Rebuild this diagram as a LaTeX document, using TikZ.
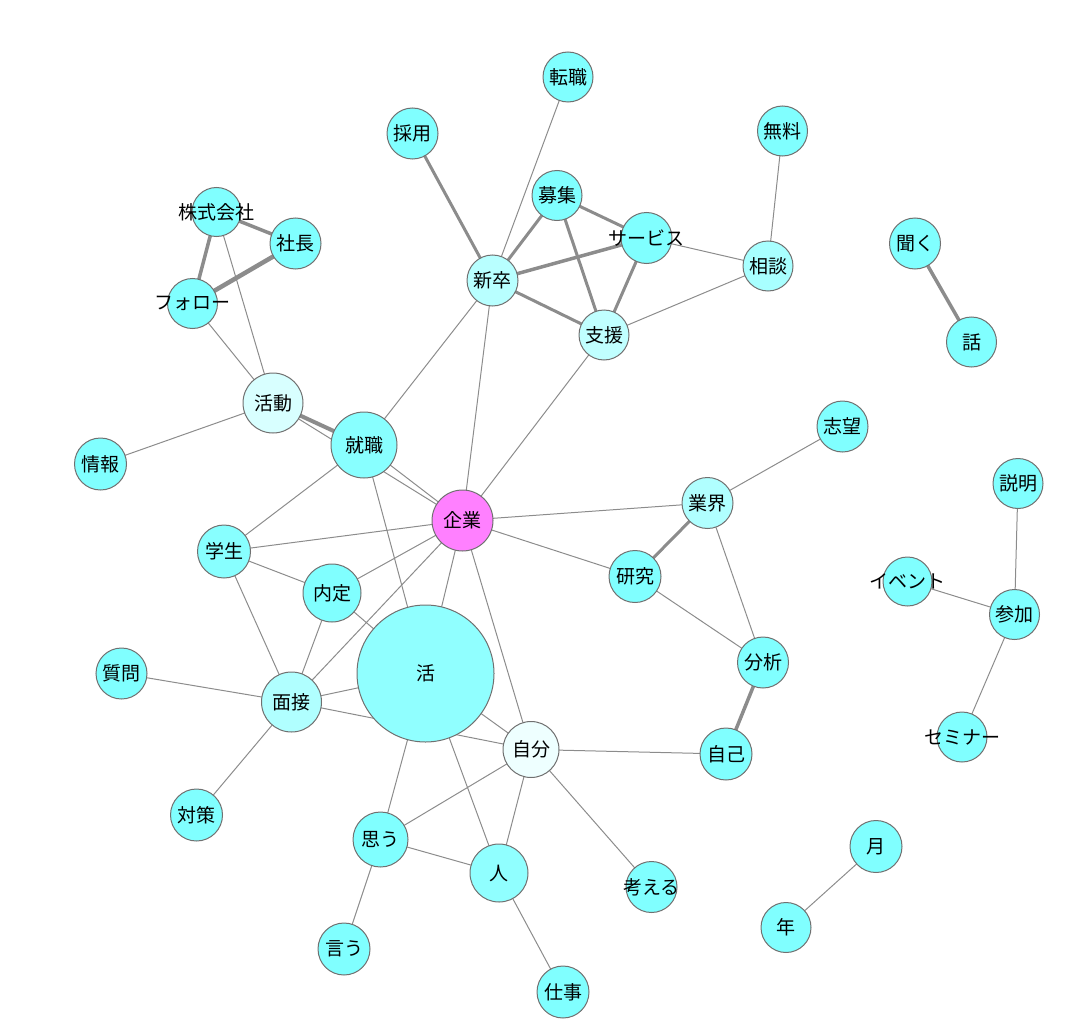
\documentclass[tikz,border=0pt]{standalone}
\usepackage{fontspec}
\newfontfamily\jp{Noto Sans CJK JP}
\usetikzlibrary{backgrounds}
\definecolor{c0}{HTML}{80FFFF}
\definecolor{c88}{HTML}{88FFFF}
\definecolor{c90}{HTML}{90FFFF}
\definecolor{cA8}{HTML}{A8FFFF}
\definecolor{cB0}{HTML}{B0FFFF}
\definecolor{cB8}{HTML}{B8FFFF}
\definecolor{cC0}{HTML}{C0FFFF}
\definecolor{cD8}{HTML}{D8FFFF}
\definecolor{cEE}{HTML}{EEFFFF}
\definecolor{cMag}{HTML}{FF80FF}
\definecolor{bordergray}{HTML}{707070}
\definecolor{edgegray}{HTML}{8C8C8C}
\tikzset{
  lab/.style={font=\jp\fontsize{19}{19}\selectfont, inner sep=0pt, text=black},
  nd/.style={circle, draw=bordergray, line width=1pt, inner sep=0pt, minimum size=#1},
  e/.style={draw=edgegray, line width=1pt},
  ew/.style={draw=edgegray, line width=#1},
}
\begin{document}
\begin{tikzpicture}[x=1pt,y=-1pt]
\useasboundingbox (0,0) rectangle (1067,1035);
% nodes
\node[nd=50, fill=c0, label={[lab]center:転職}] (tenshoku) at (568,77) {};
\node[nd=51, fill=c0, label={[lab]center:採用}] (saiyou) at (412.5,133.5) {};
\node[nd=50, fill=c0, label={[lab]center:無料}] (muryou) at (782.5,131) {};
\node[nd=50, fill=c0, label={[lab]center:募集}] (boshu) at (557,195.5) {};
\node[nd=49, fill=c0, label={[lab]center:株式会社}] (kabu) at (216.5,212) {};
\node[nd=51, fill=c0, label={[lab]center:社長}] (shacho) at (295.5,243.5) {};
\node[nd=51, fill=c0, label={[lab]center:サービス}] (service) at (646.5,238) {};
\node[nd=51, fill=c0, label={[lab]center:聞く}] (kiku) at (915,243.5) {};
\node[nd=50, fill=cA8, label={[lab]center:相談}] (soudan) at (768,266) {};
\node[nd=51, fill=cB8, label={[lab]center:新卒}] (shinsotsu) at (492.5,280.5) {};
\node[nd=50, fill=c0, label={[lab]center:フォロー}] (follow) at (192.5,303.5) {};
\node[nd=50, fill=cC0, label={[lab]center:支援}] (shien) at (604,335) {};
\node[nd=50, fill=c0, label={[lab]center:話}] (hanashi) at (971.5,342) {};
\node[nd=60, fill=cD8, label={[lab]center:活動}] (katsudo) at (273,403) {};
\node[nd=66, fill=c88, label={[lab]center:就職}] (shushoku) at (364,445) {};
\node[nd=51, fill=c0, label={[lab]center:志望}] (shibou) at (842.5,426.5) {};
\node[nd=52, fill=c0, label={[lab]center:情報}] (jouhou) at (100.5,464) {};
\node[nd=50, fill=c0, label={[lab]center:説明}] (setsumei) at (1018,483.5) {};
\node[nd=61, fill=cMag, label={[lab]center:企業}] (kigyou) at (462.5,520.5) {};
\node[nd=51, fill=cB0, label={[lab]center:業界}] (gyoukai) at (707.5,503) {};
\node[nd=53, fill=c88, label={[lab]center:学生}] (gakusei) at (224,551.5) {};
\node[nd=52, fill=c0, label={[lab]center:研究}] (kenkyu) at (635,576.5) {};
\node[nd=49, fill=c0, label={[lab]center:イベント}] (event) at (907.5,581.5) {};
\node[nd=50, fill=c0, label={[lab]center:参加}] (sanka) at (1014.5,614.5) {};
\node[nd=58, fill=c0, label={[lab]center:内定}] (naitei) at (332,593) {};
\node[nd=137, fill=c90, label={[lab]center:活}] (katsu) at (425.5,673.5) {};
\node[nd=51, fill=c0, label={[lab]center:分析}] (bunseki) at (763,662.5) {};
\node[nd=51, fill=c0, label={[lab]center:質問}] (shitsumon) at (121.5,673.5) {};
\node[nd=60, fill=cB0, label={[lab]center:面接}] (mensetsu) at (291.5,702) {};
\node[nd=50, fill=c0, label={[lab]center:セミナー}] (seminar) at (962,737) {};
\node[nd=56, fill=cEE, label={[lab]center:自分}] (jibun) at (531,749.5) {};
\node[nd=52, fill=c0, label={[lab]center:自己}] (jiko) at (726,754) {};
\node[nd=52, fill=c0, label={[lab]center:対策}] (taisaku) at (196.5,815) {};
\node[nd=55, fill=c0, label={[lab]center:思う}] (omou) at (380.5,839.5) {};
\node[nd=52, fill=c0, label={[lab]center:月}] (tsuki) at (876,846.5) {};
\node[nd=58, fill=c90, label={[lab]center:人}] (hito) at (499,873) {};
\node[nd=51, fill=c0, label={[lab]center:考える}] (kangaeru) at (651.5,887) {};
\node[nd=50, fill=c0, label={[lab]center:年}] (toshi) at (786,927.5) {};
\node[nd=52, fill=c0, label={[lab]center:言う}] (iu) at (344,949) {};
\node[nd=52, fill=c0, label={[lab]center:仕事}] (shigoto) at (563,992) {};
% edges
\begin{pgfonlayer}{background}
% thick
\draw[ew=4.5pt] (shacho.center) -- (follow.center);
\draw[ew=3.5pt] (kabu.center) -- (shacho.center);
\draw[ew=3.5pt] (kabu.center) -- (follow.center);
\draw[ew=4pt] (katsudo.center) -- (shushoku.center);
\draw[ew=3pt] (saiyou.center) -- (shinsotsu.center);
\draw[ew=3pt] (shinsotsu.center) -- (boshu.center);
\draw[ew=3.5pt] (shinsotsu.center) -- (service.center);
\draw[ew=3pt] (shinsotsu.center) -- (shien.center);
\draw[ew=3pt] (boshu.center) -- (service.center);
\draw[ew=3pt] (boshu.center) -- (shien.center);
\draw[ew=3pt] (service.center) -- (shien.center);
\draw[ew=3.5pt] (kiku.center) -- (hanashi.center);
\draw[ew=3pt] (gyoukai.center) -- (kenkyu.center);
\draw[ew=3.5pt] (bunseki.center) -- (jiko.center);
% thin
\draw[e] (tenshoku.center) -- (shinsotsu.center);
\draw[e] (muryou.center) -- (soudan.center);
\draw[e] (service.center) -- (soudan.center);
\draw[e] (soudan.center) -- (shien.center);
\draw[e] (kabu.center) -- (katsudo.center);
\draw[e] (follow.center) -- (katsudo.center);
\draw[e] (katsudo.center) -- (jouhou.center);
\draw[e] (katsudo.center) -- (kigyou.center);
\draw[e] (shushoku.center) -- (shinsotsu.center);
\draw[e] (shushoku.center) -- (kigyou.center);
\draw[e] (shushoku.center) -- (gakusei.center);
\draw[e] (shushoku.center) -- (katsu.center);
\draw[e] (shinsotsu.center) -- (kigyou.center);
\draw[e] (shien.center) -- (kigyou.center);
\draw[e] (kigyou.center) -- (gyoukai.center);
\draw[e] (kigyou.center) -- (kenkyu.center);
\draw[e] (kigyou.center) -- (gakusei.center);
\draw[e] (kigyou.center) -- (naitei.center);
\draw[e] (kigyou.center) -- (mensetsu.center);
\draw[e] (kigyou.center) -- (katsu.center);
\draw[e] (kigyou.center) -- (jibun.center);
\draw[e] (gakusei.center) -- (naitei.center);
\draw[e] (gakusei.center) -- (mensetsu.center);
\draw[e] (naitei.center) -- (mensetsu.center);
\draw[e] (naitei.center) -- (katsu.center);
\draw[e] (mensetsu.center) -- (shitsumon.center);
\draw[e] (mensetsu.center) -- (taisaku.center);
\draw[e] (mensetsu.center) -- (katsu.center);
\draw[e] (mensetsu.center) -- (jibun.center);
\draw[e] (katsu.center) -- (jibun.center);
\draw[e] (katsu.center) -- (omou.center);
\draw[e] (katsu.center) -- (hito.center);
\draw[e] (jibun.center) -- (omou.center);
\draw[e] (jibun.center) -- (hito.center);
\draw[e] (jibun.center) -- (kangaeru.center);
\draw[e] (jibun.center) -- (jiko.center);
\draw[e] (omou.center) -- (hito.center);
\draw[e] (omou.center) -- (iu.center);
\draw[e] (hito.center) -- (shigoto.center);
\draw[e] (gyoukai.center) -- (shibou.center);
\draw[e] (gyoukai.center) -- (bunseki.center);
\draw[e] (kenkyu.center) -- (bunseki.center);
\draw[e] (setsumei.center) -- (sanka.center);
\draw[e] (event.center) -- (sanka.center);
\draw[e] (sanka.center) -- (seminar.center);
\draw[e] (tsuki.center) -- (toshi.center);
\end{pgfonlayer}
\end{tikzpicture}
\end{document}
